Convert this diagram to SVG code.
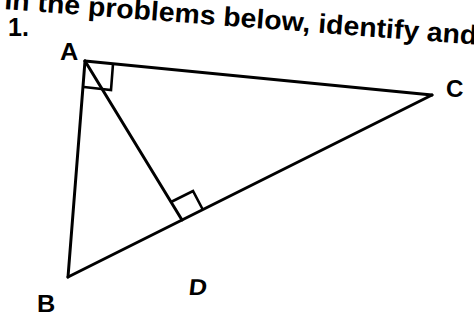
<svg xmlns="http://www.w3.org/2000/svg" width="474" height="328" viewBox="0 0 474 328">
<style>
.seg{stroke:#000;stroke-width:3;stroke-linecap:round;fill:none}
.mark{stroke:#000;stroke-width:2.6;fill:none;stroke-linejoin:miter}
.lbl{font-family:"Liberation Sans",Arial,sans-serif;font-size:23px;font-weight:bold;fill:#000}
.hdr{font-family:"Liberation Sans",Arial,sans-serif;font-size:27px;font-weight:bold;fill:#000}
.num{font-family:"Liberation Sans",Arial,sans-serif;font-size:25px;font-weight:bold;fill:#000}
</style>
<rect width="474" height="328" fill="#fff"/>
<text class="hdr" x="4" y="9" transform="rotate(4.3 4 9)" textLength="474" lengthAdjust="spacingAndGlyphs">In the problems below, identify and</text>
<text class="num" x="8" y="36">1.</text>
<g id="connectors">
<line class="seg" x1="85" y1="61" x2="432" y2="95"/>
<line class="seg" x1="85" y1="61" x2="68" y2="277"/>
<line class="seg" x1="68" y1="277" x2="432" y2="95"/>
<line class="seg" x1="85" y1="61" x2="182" y2="220"/>
<polyline class="mark" points="113,64 111,90 84,87"/>
<polyline class="mark" points="171,202 193,191 203,210"/>
</g>
<g id="A"><text class="lbl" transform="translate(60 60) scale(1.1 1)">A</text></g>
<g id="B"><text class="lbl" transform="translate(37 312) scale(1.1 1)">B</text></g>
<g id="C"><text class="lbl" transform="translate(446 97) scale(1.05 1)">C</text></g>
<g id="D"><text class="lbl" transform="translate(188 295) scale(1.1 1) skewX(-6)">D</text></g>
</svg>
